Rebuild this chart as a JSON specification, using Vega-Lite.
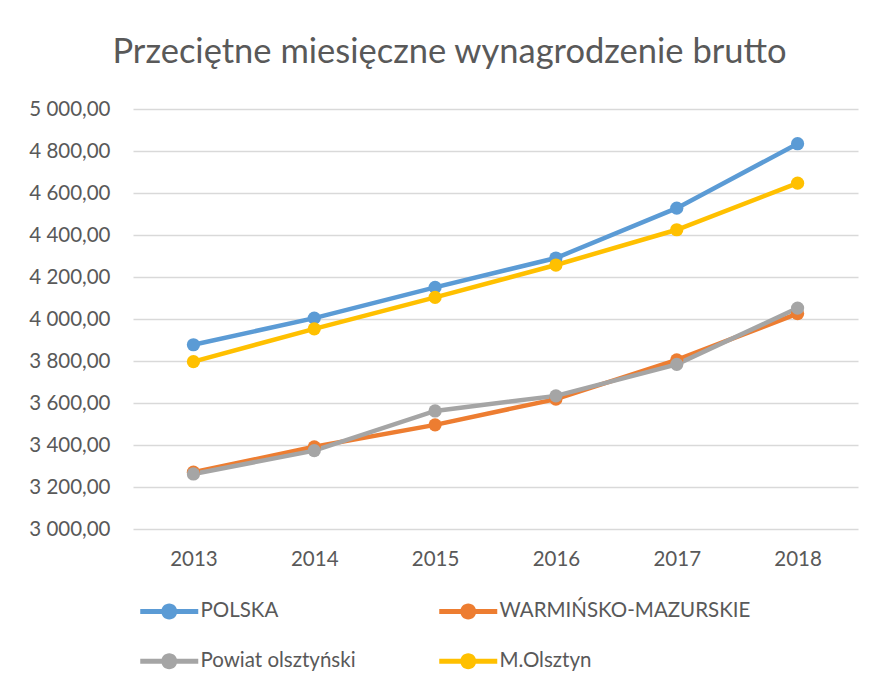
{
  "$schema": "https://vega.github.io/schema/vega-lite/v6.json",
  "autosize": "none",
  "width": 725,
  "height": 420,
  "padding": {"left": 133, "top": 109, "right": 18, "bottom": 157},
  "background": "white",
  "title": {
    "text": "Przeciętne miesięczne wynagrodzenie brutto",
    "font": "Lato",
    "fontSize": 34.5,
    "fontWeight": "normal",
    "color": "#595959",
    "anchor": "middle",
    "dx": -46,
    "offset": 29
  },
  "data": {
    "values": [
      {"rok": "2013", "seria": "POLSKA", "wartosc": 3877.43},
      {"rok": "2014", "seria": "POLSKA", "wartosc": 4003.99},
      {"rok": "2015", "seria": "POLSKA", "wartosc": 4150.86},
      {"rok": "2016", "seria": "POLSKA", "wartosc": 4290.52},
      {"rok": "2017", "seria": "POLSKA", "wartosc": 4527.89},
      {"rok": "2018", "seria": "POLSKA", "wartosc": 4834.76},
      {"rok": "2013", "seria": "WARMIŃSKO-MAZURSKIE", "wartosc": 3270.47},
      {"rok": "2014", "seria": "WARMIŃSKO-MAZURSKIE", "wartosc": 3391.41},
      {"rok": "2015", "seria": "WARMIŃSKO-MAZURSKIE", "wartosc": 3495.96},
      {"rok": "2016", "seria": "WARMIŃSKO-MAZURSKIE", "wartosc": 3618.46},
      {"rok": "2017", "seria": "WARMIŃSKO-MAZURSKIE", "wartosc": 3804.99},
      {"rok": "2018", "seria": "WARMIŃSKO-MAZURSKIE", "wartosc": 4025.72},
      {"rok": "2013", "seria": "Powiat olsztyński", "wartosc": 3262.0},
      {"rok": "2014", "seria": "Powiat olsztyński", "wartosc": 3373.0},
      {"rok": "2015", "seria": "Powiat olsztyński", "wartosc": 3562.0},
      {"rok": "2016", "seria": "Powiat olsztyński", "wartosc": 3634.0},
      {"rok": "2017", "seria": "Powiat olsztyński", "wartosc": 3784.0},
      {"rok": "2018", "seria": "Powiat olsztyński", "wartosc": 4052.0},
      {"rok": "2013", "seria": "M.Olsztyn", "wartosc": 3797.0},
      {"rok": "2014", "seria": "M.Olsztyn", "wartosc": 3953.0},
      {"rok": "2015", "seria": "M.Olsztyn", "wartosc": 4103.0},
      {"rok": "2016", "seria": "M.Olsztyn", "wartosc": 4257.0},
      {"rok": "2017", "seria": "M.Olsztyn", "wartosc": 4425.0},
      {"rok": "2018", "seria": "M.Olsztyn", "wartosc": 4647.0}
    ]
  },
  "encoding": {
    "x": {
      "field": "rok",
      "type": "ordinal",
      "title": null,
      "scale": {"type": "point", "padding": 0.5},
      "axis": {
        "labelAngle": 0,
        "domain": false,
        "ticks": false,
        "grid": false,
        "labelFont": "Lato",
        "labelFontSize": 20.5,
        "labelColor": "#595959",
        "labelPadding": 20
      }
    },
    "y": {
      "field": "wartosc",
      "type": "quantitative",
      "title": null,
      "scale": {"domain": [3000, 5000], "nice": false, "zero": false},
      "axis": {
        "values": [3000, 3200, 3400, 3600, 3800, 4000, 4200, 4400, 4600, 4800, 5000],
        "labelExpr": "replace(replace(format(datum.value, ',.2f'), ',', ' '), '.', ',')",
        "domain": false,
        "ticks": false,
        "grid": true,
        "gridColor": "#d9d9d9",
        "gridWidth": 1.3,
        "labelFont": "Lato",
        "labelFontSize": 20.5,
        "labelColor": "#595959",
        "labelPadding": 23
      }
    },
    "color": {
      "field": "seria",
      "type": "nominal",
      "scale": {
        "domain": ["POLSKA", "WARMIŃSKO-MAZURSKIE", "Powiat olsztyński", "M.Olsztyn"],
        "range": ["#5B9BD5", "#ED7D31", "#A5A5A5", "#FFC000"]
      },
      "legend": {
        "title": null,
        "orient": "none",
        "legendX": 7,
        "legendY": 492,
        "direction": "horizontal",
        "columns": 2,
        "columnPadding": 83,
        "rowPadding": 29,
        "symbolType": "M-1,-0.25H4.8V0.25H-1Z M2.7,0A0.8,0.8,0,1,1,1.1,0A0.8,0.8,0,1,1,2.7,0Z",
        "symbolSize": 400,
        "symbolStrokeWidth": 0,
        "symbolOpacity": 1,
        "labelOffset": 40,
        "labelFont": "Lato",
        "labelFontSize": 20.5,
        "labelColor": "#595959",
        "labelLimit": 400
      }
    },
    "order": {"field": "rok"}
  },
  "layer": [
    {"mark": {"type": "line", "strokeWidth": 4.5}, "encoding": {}},
    {"mark": {"type": "point", "filled": true, "size": 175, "opacity": 1, "shape": "circle"}, "encoding": {}}
  ],
  "config": {
    "view": {"stroke": null}
  }
}
